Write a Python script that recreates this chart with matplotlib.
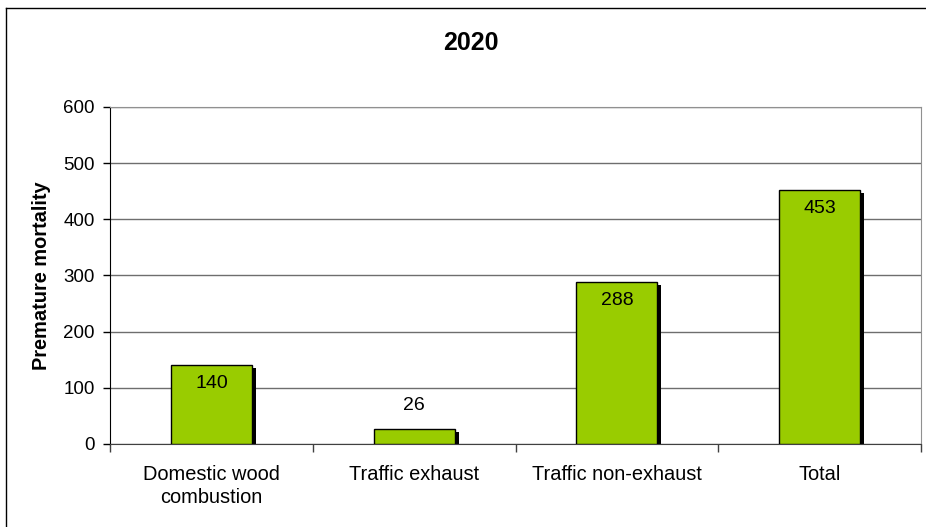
import matplotlib.pyplot as plt
import matplotlib.transforms as mtransforms
from matplotlib.lines import Line2D
import numpy as np

plt.rcParams['font.family'] = ['Liberation Sans', 'DejaVu Sans']

categories = ['Domestic wood\ncombustion', 'Traffic exhaust', 'Traffic non-exhaust', 'Total']
mortality = [140, 26, 288, 453]
yticks = [0, 100, 200, 300, 400, 500, 600]

fig = plt.figure(figsize=(9.26, 5.27), dpi=100)
ax = fig.add_axes([0.1188, 0.1575, 0.8758, 0.6395])

x = np.arange(len(categories))
width = 0.4

# drop shadow behind each bar
shadow = mtransforms.offset_copy(ax.transData, fig=fig, x=4, y=-3, units='dots')
ax.bar(x, mortality, width, color='black', transform=shadow, zorder=2)
ax.bar(x, mortality, width, color='#99CC00', edgecolor='black', linewidth=1, zorder=3)

for xi, v in zip(x, mortality):
    if v > 60:
        ax.text(xi, v - 33, str(v), ha='center', va='center', fontsize=14, zorder=4)
    else:
        ax.text(xi, v + 43, str(v), ha='center', va='center', fontsize=14, zorder=4)

ax.set_xlim(-0.5, len(categories) - 0.5)
ax.set_ylim(0, 600)
ax.set_yticks(yticks)
ax.set_yticklabels([str(t) for t in yticks], fontsize=13.5)
ax.yaxis.grid(True, color='#6e6e6e', linewidth=1)
ax.set_axisbelow(True)
ax.tick_params(axis='y', length=5, width=1, pad=6)

# category ticks on the boundaries, labels centred below the bars
ax.set_xticks(np.arange(len(categories) + 1) - 0.5)
ax.set_xticklabels([])
ax.tick_params(axis='x', length=6, width=1, color='#404040')
for xi, c in zip(x, categories):
    ax.text(xi, -0.062, c, transform=ax.get_xaxis_transform(), ha='center', va='top',
            fontsize=14.4, linespacing=1.3)

ax.spines['left'].set_color('black')
ax.spines['bottom'].set_color('#404040')
ax.spines['top'].set_color('#909090')
ax.spines['right'].set_color('#909090')

ax.set_ylabel('Premature mortality', fontsize=14.4, fontweight='bold')
ax.yaxis.set_label_coords(-0.073, 0.5)
fig.text(471 / 926, 1 - 43 / 527, '2020', ha='center', va='center', fontsize=18, fontweight='bold')

# outer chart frame
fig.add_artist(Line2D([6 / 926, 6 / 926], [0, 1 - 8 / 527], transform=fig.transFigure, color='black', lw=1))
fig.add_artist(Line2D([6 / 926, 1], [1 - 8 / 527, 1 - 8 / 527], transform=fig.transFigure, color='black', lw=1))

fig.savefig('out.png', dpi=100)
